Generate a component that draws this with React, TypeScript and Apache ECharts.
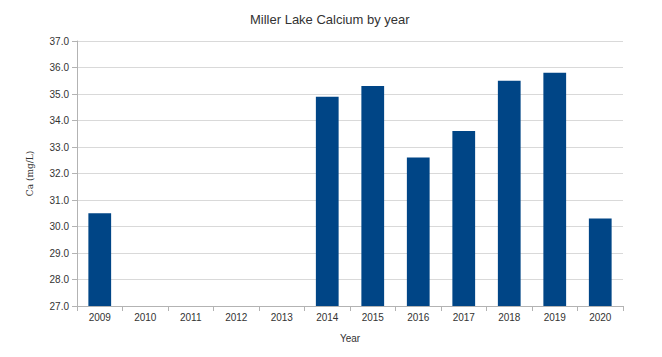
import React, { useEffect, useRef } from "react";
import * as echarts from "echarts";

const years = ["2009", "2010", "2011", "2012", "2013", "2014", "2015", "2016", "2017", "2018", "2019", "2020"];
const calcium: (number | null)[] = [30.5, null, null, null, null, 34.9, 35.3, 32.6, 33.6, 35.5, 35.8, 30.3];

export default function App() {
  const ref = useRef<HTMLDivElement>(null);
  useEffect(() => {
    const chart = echarts.init(ref.current!, undefined, { renderer: "svg" });
    chart.setOption({
      animation: false,
      backgroundColor: "#ffffff",
      title: {
        text: "Miller Lake Calcium by year",
        left: 245,
        top: 8,
        textStyle: { fontFamily: "Liberation Sans", fontSize: 13, fontWeight: "normal", color: "#333333" },
      },
      grid: { left: 77, right: 39, top: 41, bottom: 51 },
      xAxis: {
        type: "category",
        data: years,
        name: "Year",
        nameLocation: "middle",
        nameGap: 27,
        nameTextStyle: { fontFamily: "Liberation Sans", fontSize: 10, color: "#333333" },
        axisLine: { lineStyle: { color: "#b3b3b3" } },
        axisTick: { show: true, length: 5, lineStyle: { color: "#b3b3b3" } },
        axisLabel: { fontFamily: "Liberation Sans", fontSize: 10, color: "#333333", margin: 6 },
      },
      yAxis: {
        type: "value",
        min: 27,
        max: 37,
        interval: 1,
        name: "Ca (mg/L)",
        nameLocation: "middle",
        nameGap: 43,
        nameRotate: 90,
        nameTextStyle: { fontFamily: "DejaVu Serif", fontSize: 9, color: "#333333" },
        axisLine: { show: true, lineStyle: { color: "#b3b3b3" } },
        axisTick: { show: true, length: 5, lineStyle: { color: "#b3b3b3" } },
        axisLabel: {
          fontFamily: "Liberation Sans",
          fontSize: 10,
          color: "#333333",
          margin: 8,
          formatter: (v: number) => v.toFixed(1),
        },
        splitLine: { lineStyle: { color: "#d9d9d9" } },
      },
      series: [
        {
          type: "bar",
          data: calcium,
          barWidth: "50%",
          itemStyle: { color: "#004586" },
        },
      ],
    });
    return () => chart.dispose();
  }, []);
  return <div ref={ref} style={{ width: 662, height: 357, position: "absolute", left: 0, top: 0 }} />;
}
